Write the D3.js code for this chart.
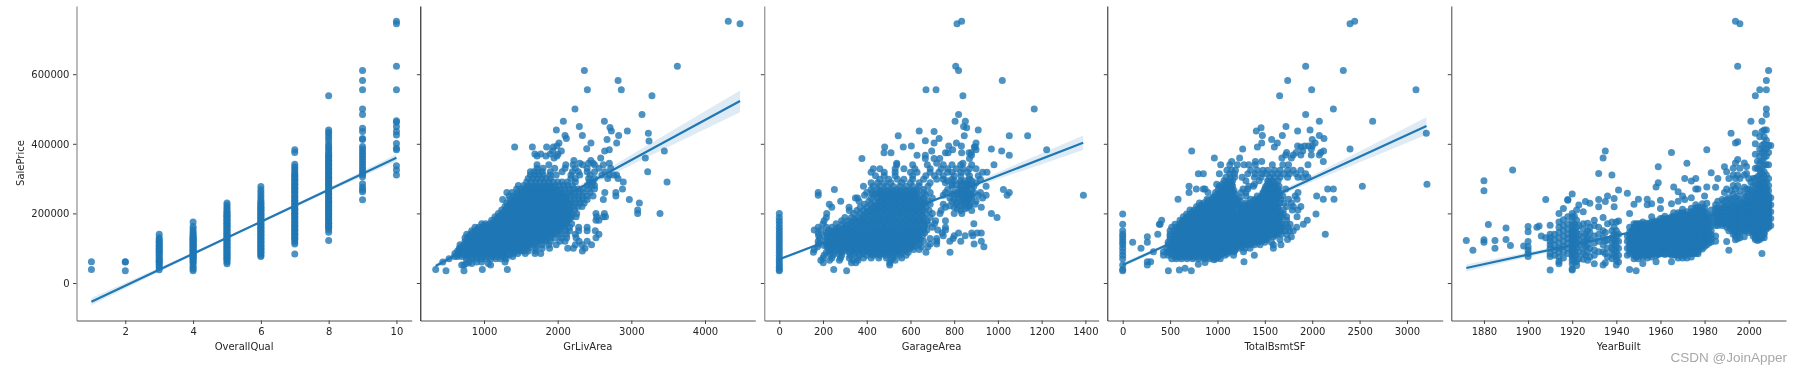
<!DOCTYPE html>
<meta charset="utf-8">
<title>SalePrice pair plot</title>
<script src="https://d3js.org/d3.v7.min.js"></script>
<style>
  body { margin: 0; background: #fff; }
  svg { filter: blur(0.4px); }
  text { font-family: "DejaVu Sans", sans-serif; font-size: 10px; fill: #262626; }
</style>
<svg width="1802" height="374"></svg>
<script>
// all prices are in thousands

// OverallQual: [qual, prices...]
var qualCols = [
  [1,39,61],
  [2,35,60,61],
  [3,38,45,50,55,60,62,67,70,75,80,85,88,92,96,100,105,108,112,116,120,125,130,140],
  [4,35,40,45,52,58,62,66,70,74,78,82,86,90,94,98,102,106,110,114,118,122,126,130,134,138,142,148,155,162,175],
  [5,55,60,65,70,75,80,85,90,95,100,105,110,115,120,125,130,135,140,145,150,155,160,165,170,175,180,185,190,195,200,206,212,218,224,230],
  [6,76,80,85,90,95,100,105,110,115,120,125,130,135,140,145,150,155,160,165,170,175,180,185,190,195,200,205,210,215,220,226,232,238,245,252,260,268,277],
  [7,83,112,118,124,130,136,142,148,154,160,166,172,178,184,190,196,202,208,214,220,226,232,238,244,250,256,262,268,274,280,286,292,298,304,310,316,322,328,334,341,375,383],
  [8,122,146,154,160,166,172,178,184,190,196,202,208,214,220,226,232,238,244,250,256,262,268,274,280,286,292,298,304,310,316,322,328,334,340,346,352,358,364,370,376,382,388,394,400,410,418,426,433,440,538],
  [9,239,262,268,275,285,305,312,318,325,332,340,347,355,362,370,377,385,392,412,415,435,445,484,500,555,582,611],
  [10,310,325,337,383,387,401,425,435,449,462,466,555,623,745,752],
  // second pass over the solid part of each column
  [4,72,80,88,96,104,112,120,128],
  [5,72,82,92,102,112,122,132,142,152,162,172,182,192,202],
  [6,88,98,108,118,128,138,148,158,168,178,188,198,208,218,228],
  [7,128,140,152,164,176,188,200,212,224,236,248,260,272,284,296,308],
  [8,160,172,184,196,208,220,232,244,256,268,280,292,304,316,328,340,352,364]
];

// GrLivArea: [price, areas...]
var livRows = [
  [35,484,728],[39,344,977,1317],[52,697,728,1090],[56,760,833,1059],[60,440,800,900,968,1285],
  [70,525,760,830,900,965,1030,1090,1160,1225,1300],
  [76,600,640,700,770,840,905,970,1030,1100,1170,1240,1285,1390],
  [85,605,650,715,780,850,920,985,1050,1120,1190,1260,1330,1400,1460,1560,1692,1770],
  [92,640,690,745,800,855,910,965,1020,1075,1130,1185,1240,1295,1350,1410,1470,1530,1600,1700,2335],
  [100,665,720,775,830,885,940,990,1045,1100,1155,1210,1260,1315,1370,1430,1490,1550,1610,1700,1790,1890,2136,2213,2371],
  [110,674,730,785,840,895,950,1005,1060,1115,1170,1225,1280,1335,1390,1445,1500,1555,1610,1665,1720,1790,1880,1980,2240,2330,2460],
  [120,742,795,850,905,960,1015,1070,1125,1180,1235,1290,1345,1400,1455,1510,1565,1620,1675,1730,1785,1840,1900,2032,2100,2290,2400],
  [130,742,800,855,910,965,1020,1075,1130,1185,1240,1295,1350,1405,1460,1515,1570,1625,1680,1735,1790,1845,1900,1960,2050,2122,2250,2520],
  [140,765,820,875,930,985,1040,1095,1150,1205,1260,1315,1370,1425,1480,1535,1590,1645,1700,1755,1810,1865,1920,1980,2040,2120,2240,2560],
  [150,833,885,940,995,1050,1105,1160,1215,1270,1325,1380,1435,1490,1545,1600,1655,1710,1765,1820,1875,1930,1985,2040,2110,2160,2285,2400,2510],
  [160,878,930,985,1040,1095,1150,1205,1260,1315,1370,1425,1480,1535,1590,1645,1700,1755,1810,1865,1920,1975,2030,2090,2160,2285,2400],
  [170,968,1020,1075,1130,1185,1240,1295,1350,1405,1460,1515,1570,1625,1680,1735,1790,1845,1900,1955,2010,2065,2120,2190],
  [180,1104,1155,1210,1265,1320,1375,1430,1485,1540,1595,1650,1705,1760,1815,1870,1925,1980,2035,2090,2145,2520,2560],
  [190,1149,1200,1255,1310,1365,1420,1475,1530,1585,1640,1695,1750,1805,1860,1915,1970,2025,2080,2135,2190,2250,2530,2620,2650],
  [200,1195,1250,1305,1360,1415,1470,1525,1580,1635,1690,1745,1800,1855,1910,1965,2020,2075,2130,2185,2258,2520,2634,3086,3389],
  [210,1240,1295,1350,1405,1460,1515,1570,1625,1680,1735,1790,1845,1900,1955,2010,2065,2120,2175,2230,3086],
  [220,1285,1340,1395,1450,1505,1560,1615,1670,1725,1780,1835,1890,1945,2000,2055,2110,2165,2220,2275,2330],
  [230,1308,1360,1415,1470,1525,1580,1635,1690,1745,1800,1855,1910,1965,2020,2075,2130,2185,2240,2300,2360,3109],
  [240,1253,1353,1405,1460,1515,1570,1625,1680,1735,1790,1845,1900,1955,2010,2065,2120,2175,2230,2285,2340,2400,2620,2973],
  [250,1340,1400,1455,1510,1565,1620,1675,1730,1785,1840,1895,1950,2005,2060,2115,2170,2225,2280,2340,2400,2480,2790],
  [260,1310,1380,1450,1510,1570,1630,1690,1750,1810,1870,1930,1990,2050,2110,2170,2230,2290,2350,2440,2640,2790],
  [270,1443,1500,1560,1620,1680,1740,1800,1860,1920,1980,2040,2100,2160,2220,2280,2340,2420,2500,2880],
  [280,1466,1540,1600,1660,1720,1780,1840,1900,1960,2020,2080,2140,2200,2400,2460,2500],
  [290,1579,1640,1700,1760,1820,1880,1940,2000,2060,2130,2240,2430,2480,2891,3485],
  [300,1600,1660,1720,1780,1840,1900,2180,2240,2420,2500,2680,2820],
  [310,1630,1690,1740,1805,1900,1980,2180,2300,2440,2600,2700,2760,2800],
  [320,1630,1680,1730,1790,1900,2060,2200,2280,2400,2500,2640,3222],
  [330,1720,1800,1960,2100,2240,2400,2560,2720],
  [340,1720,1880,2110,2210,2340,2500,2620],
  [344,2300,2420,2480,2701],[352,2220,2450],[359,1950,2584,3190],[365,1720,1840,1990],
  [371,1690,1770,1900,2005],[379,1930,2050,2638,3448],[383,2701],[386,2394],
  [391,1416,1656,1850,1940],[394,1990],[402,2018,2452,2801],[408,3240],[412,2670],[415,2118],
  [424,2100,2335,2828],[430,3231],[437,2946,2729],[440,1982],[447,2710],[450,2294],
  [465,2077,2634],[484,3145],[500,2235],[538,3280],[555,2403,2864],[582,2820],[611,2362],[623,3625],[745,4476],[752,4316],
  // denser middle of the cloud
  [81,660,735,810,885,960,1035,1110,1185,1260,1345],
  [95,670,720,770,825,880,935,990,1045,1100,1155,1210,1265,1320,1380,1440,1510],
  [105,700,755,810,865,920,975,1030,1085,1140,1195,1250,1305,1360,1415,1470,1525,1580],
  [115,760,815,870,925,980,1035,1090,1145,1200,1255,1310,1365,1420,1475,1530,1585,1640,1700],
  [125,770,825,880,935,990,1045,1100,1155,1210,1265,1320,1375,1430,1485,1540,1595,1650,1705,1760,1815],
  [135,795,850,905,960,1015,1070,1125,1180,1235,1290,1345,1400,1455,1510,1565,1620,1675,1730,1785,1840,1895],
  [145,850,905,960,1015,1070,1125,1180,1235,1290,1345,1400,1455,1510,1565,1620,1675,1730,1785,1840,1895,1950],
  [155,910,965,1020,1075,1130,1185,1240,1295,1350,1405,1460,1515,1570,1625,1680,1735,1790,1845,1900,1955,2010],
  [165,995,1050,1105,1160,1215,1270,1325,1380,1435,1490,1545,1600,1655,1710,1765,1820,1875,1930,1985,2040,2095],
  [175,1130,1185,1240,1295,1350,1405,1460,1515,1570,1625,1680,1735,1790,1845,1900,1955,2010,2065,2120],
  [185,1175,1230,1285,1340,1395,1450,1505,1560,1615,1670,1725,1780,1835,1890,1945,2000,2055,2110,2165],
  [195,1225,1280,1335,1390,1445,1500,1555,1610,1665,1720,1775,1830,1885,1940,1995,2050,2105,2160],
  [205,1270,1325,1380,1435,1490,1545,1600,1655,1710,1765,1820,1875,1930,1985,2040,2095,2150],
  [215,1310,1365,1420,1475,1530,1585,1640,1695,1750,1805,1860,1915,1970,2025,2080,2135],
  [225,1335,1390,1445,1500,1555,1610,1665,1720,1775,1830,1885,1940,1995,2050,2105,2160],
  [235,1380,1435,1490,1545,1600,1655,1710,1765,1820,1875,1930,1985,2040,2095],
  [245,1430,1485,1540,1595,1650,1705,1760,1815,1870,1925,1980,2035,2090],
  [255,1470,1530,1590,1650,1710,1770,1830,1890,1950,2010,2070],
  [265,1530,1590,1650,1710,1770,1830,1890,1950,2010],
  [275,1570,1630,1690,1750,1810,1870,1930]
];

// GarageArea: [price, areas...]
var garageRows = [
  [35,0,308],[39,0,249],[45,0],[52,0,505],[58,0,201,330,350,505],
  [65,0,190,230,275,335,360,510,530],
  [72,0,200,240,280,320,355,385,420,455,490,520,560],
  [80,0,205,245,285,325,365,400,430,460,490,520,550,580],
  [88,0,156,215,250,285,320,350,380,410,440,470,500,530,560,590,671,781],
  [96,0,160,225,255,285,315,345,375,405,435,465,495,525,555,585,615,640],
  [104,0,175,220,250,280,310,340,370,400,430,460,490,520,550,580,610,650,680,936],
  [112,0,180,215,245,275,305,335,365,395,425,455,485,515,545,575,605,640,690,720,891],
  [120,0,178,210,240,270,300,330,360,390,420,450,480,510,540,570,600,630,660,720,780,830,924],
  [128,0,185,220,250,280,310,340,370,400,430,460,490,520,550,580,610,640,690,720,795],
  [136,0,180,205,235,265,295,325,355,385,415,445,475,505,535,565,595,625,655,750,800,850,885],
  [144,0,178,215,245,275,305,335,365,395,425,455,485,515,545,575,605,635,665,745,820,880,905,924],
  [152,0,160,190,225,255,285,315,345,375,405,435,465,495,525,555,585,615,645,675,725,760],
  [160,0,178,215,240,270,300,330,360,390,420,450,480,510,540,570,600,630,660,700,760],
  [170,0,200,260,290,320,350,380,410,440,470,500,530,560,590,620,650,680,710,890],
  [179,0,205,285,315,345,375,405,435,465,495,525,555,585,615,645,675,715,760],
  [188,0,215,300,330,360,390,420,450,480,510,540,570,600,630,660,690,996],
  [200,0,217,340,370,400,430,460,490,520,550,580,610,640,670,700,735,800,835,970],
  [208,320,355,385,415,445,475,505,535,565,595,625,655,685,740,830,880],
  [218,240,319,370,400,430,460,490,520,550,580,610,640,670,760,800,860,924],
  [226,229,390,420,450,480,510,540,570,600,630,660,690,750,810,840,870,895],
  [235,281,365,410,440,470,500,530,560,590,620,650,680,790,830,860,900],
  [244,348,358,420,450,480,510,540,570,600,630,660,700,780,820,850,880,930],
  [252,178,390,430,460,490,520,550,580,610,640,670,750,810,850,880,910,946,1042,1391],
  [260,178,400,425,450,480,510,540,570,600,630,660,690,760,800,830,860,890,920,1052],
  [269,252,420,450,480,510,540,570,600,630,660,770,820,850,880,1025],
  [278,385,430,460,490,520,550,580,610,640,680,790,830,860,890,946],
  [288,420,450,480,510,560,600,640,690,760,830,860,900],
  [298,460,500,540,570,610,660,720,750,790,870,920],
  [308,440,480,530,610,670,710,750,800,830,870,910],
  [318,420,480,530,600,630,690,730,770,790,830,860,930,950],
  [328,430,460,530,570,620,690,740,770,810,840,870,900],
  [340,537,610,677,750,790,830,880,982],[344,537,720,840],[358,378,668,708,734,870],[367,630,668,879,1052],
  [374,479,511,760,772,834,868,878],[379,697,1017],[383,793,1223,900],[385,970],[391,482,567,892,896],
  [394,604,775,833],[402,708,810,900],[409,668],[415,731],[423,544,846,1052,1136],[435,708],[437,640],
  [440,910],[446,857],[450,843],[465,804,851],[484,820],[500,1166],[538,840],[555,671,717],[582,1020],[611,820],[623,807],[745,813],[752,834],
  // denser middle of the cloud
  [84,230,270,340,380,420,445,475,505,535],
  [92,235,270,300,330,360,395,425,450,480,510,540,570],
  [100,235,265,295,325,355,385,415,445,475,505,535,565,595],
  [108,205,235,265,295,325,355,385,415,445,475,505,535,565,595,625],
  [116,225,255,285,315,345,375,405,435,465,495,525,555,585,615],
  [124,225,255,285,315,345,375,405,435,465,495,525,555,585,615,645],
  [132,240,270,300,330,360,390,420,450,480,510,540,570,600,630],
  [140,220,250,280,310,340,370,400,430,460,490,520,550,580,610,640],
  [148,240,270,300,330,360,390,420,450,480,510,540,570,600,630,655],
  [156,270,300,330,360,390,420,450,480,510,540,570,600,630,660],
  [165,305,335,365,395,425,455,485,515,545,575,605,635,665],
  [175,330,360,390,420,450,480,510,540,570,600,630,660],
  [184,345,375,405,435,465,495,525,555,585,615,645],
  [194,385,415,445,475,505,535,565,595,625,655],
  [204,400,430,460,490,520,550,580,610,640],
  [213,420,450,480,510,540,570,600,630,655,815,850],
  [222,435,465,495,525,555,585,615,645,780,830,870],
  [231,455,485,515,545,575,605,635,665,810,850],
  [240,465,495,525,555,585,615,645,800,840,870],
  [248,470,500,530,560,590,620,835,865],
  [256,440,470,500,530,560,590,620,790,820,850,875],
  [264,465,495,525,555,585,615,830,860],
  [282,790,810,840,860,880],
  [294,770,800,830,850,880]
];

// TotalBsmtSF: [price, areas...]
var bsmtRows = [
  [35,0,482,724],[37,598],[39,0],[42,658],[52,0,260],[54,798],[59,869],[61,260,295,1280],[67,964],
  [70,0,517,565,620,680,740,800,860,920,980,1030],
  [80,0,430,480,530,580,630,680,730,780,830,880,930,980,1030,1080,1170,1389],
  [90,0,324,430,475,525,575,625,675,725,775,825,875,925,975,1025,1075,1125,1175,1275],
  [100,0,193,464,510,555,600,645,690,735,780,825,870,915,960,1005,1050,1095,1140,1185,1230,1290,1344,1590],
  [110,0,480,525,570,615,660,705,750,795,840,885,930,975,1020,1065,1110,1155,1200,1245,1290,1335,1390,1450,1590,1670],
  [117,0,105,260,480,530,575,620,665,710,755,800,845,890,935,980,1025,1070,1115,1160,1205,1250,1295,1340,1385,1430,1500,1570],
  [125,0,500,545,590,635,680,725,770,815,860,905,950,995,1040,1085,1130,1175,1220,1265,1310,1355,1400,1445,1490,1520,1660,1740],
  [133,0,260,500,545,590,635,680,725,770,815,860,905,950,995,1040,1085,1130,1175,1220,1265,1310,1355,1400,1445,1490,1535,1590,1780],
  [140,0,370,500,545,590,635,680,725,770,815,860,905,950,995,1040,1085,1130,1175,1220,1265,1310,1355,1400,1445,1490,1535,1580,1625,1670,1730,2138],
  [150,0,500,545,590,635,680,725,770,815,860,905,950,995,1040,1085,1130,1175,1220,1265,1310,1355,1400,1445,1490,1535,1580,1625,1670,1715,1760,1800],
  [160,517,565,610,655,700,745,790,835,880,925,970,1015,1060,1105,1150,1195,1240,1285,1330,1375,1420,1465,1510,1555,1600,1645,1690,1745,1836],
  [169,0,387,395,552,600,645,690,735,780,825,870,915,960,1005,1050,1095,1140,1185,1230,1275,1320,1365,1410,1455,1500,1545,1590,1635,1680,1725,1766,1906],
  [180,411,605,650,695,740,785,830,875,920,965,1010,1055,1100,1145,1190,1235,1280,1325,1370,1415,1460,1505,1550,1595,1640,1730,1948],
  [190,640,685,730,775,820,865,910,955,1000,1045,1090,1135,1180,1225,1270,1315,1360,1405,1450,1495,1540,1585,1630,1675,1730,1840],
  [198,0,675,720,765,810,855,900,945,990,1035,1080,1125,1170,1240,1285,1330,1375,1420,1465,1510,1555,1600,1645,1695,2040],
  [210,710,755,800,845,890,935,980,1025,1070,1115,1160,1260,1305,1350,1395,1440,1485,1530,1575,1620,1695,1790,1850],
  [220,780,825,870,915,960,1005,1050,1095,1140,1230,1275,1320,1365,1410,1455,1500,1545,1590,1640,1730,1800,1880],
  [230,810,855,900,945,990,1035,1080,1125,1170,1215,1300,1345,1390,1435,1480,1525,1570,1615,1660,1700,1780],
  [241,584,890,940,985,1030,1075,1120,1165,1210,1350,1400,1445,1490,1535,1580,1625,1670,1750,1840,2117,2230],
  [250,970,1015,1060,1105,1150,1300,1420,1470,1515,1560,1605,1650,1690,1820,2047],
  [260,700,900,980,1030,1075,1120,1165,1250,1300,1480,1520,1565,1610,1660,1850],
  [270,777,850,869,1010,1060,1105,1150,1270,1320,1500,1545,1590,1640,1720,2163,2223],
  [278,700,1020,1070,1115,1160,1330,1380,1510,1555,1600,1650,2529],
  [284,992,1050,1100,1150,1390,1530,1570,1620,3211],
  [294,1070,1120,1160,1300,1440,1530,1580,1640],
  [304,1090,1140,1180,1260,1390,1460,1550,1600,1660,1740,1850,1900,1955],
  [314,798,851,1020,1130,1180,1320,1400,1470,1520,1580,1640,1700,1760,1830,1930],
  [324,1100,1150,1190,1350,1420,1480,1530,1600,1660,1740,1800,1880],
  [340,1034,1130,1210,1280,1330,1400,1579,1690,1750,1955],[349,1150,1400,1467,2117],[359,967,1234,1680,1780],
  [368,1720,1800,1880,1990,2075],[375,1730,1830,2090],[379,728,1900,2120],[385,1266,2399,1990],[391,1421,1600,1880],
  [394,1846,1920,1960,2000],[402,1467,1632,2030],[412,1572,2000],[415,2124],[424,1474,1685,2075],[430,3204],
  [437,1410,1846],[440,1977],[446,1460],[450,1723],[465,2075,2638],[484,1931],[500,2223],[538,1656],
  [555,1994,3095],[582,1741],[611,2328],[623,1931],[745,2399],[752,2448],
  // denser middle of the cloud
  [75,560,605,655,705,755,805,855,905,955,1005],
  [85,505,555,605,655,705,755,805,855,905,955,1005,1055,1105],
  [95,500,550,600,645,690,735,780,825,870,915,960,1005,1050,1095,1140,1185],
  [105,530,575,620,665,710,755,800,845,890,935,980,1025,1070,1115,1160,1205,1250],
  [113,550,595,640,685,730,775,820,865,910,955,1000,1045,1090,1135,1180,1225,1270,1315,1360],
  [121,570,615,660,705,750,795,840,885,930,975,1020,1065,1110,1155,1200,1245,1290,1335,1380,1425,1470],
  [129,570,615,660,705,750,795,840,885,930,975,1020,1065,1110,1155,1200,1245,1290,1335,1380,1425,1470,1515],
  [137,570,615,660,705,750,795,840,885,930,975,1020,1065,1110,1155,1200,1245,1290,1335,1380,1425,1470,1515,1560,1605],
  [145,570,615,660,705,750,795,840,885,930,975,1020,1065,1110,1155,1200,1245,1290,1335,1380,1425,1470,1515,1560,1605,1650],
  [155,590,635,680,725,770,815,860,905,950,995,1040,1085,1130,1175,1220,1265,1310,1355,1400,1445,1490,1535,1580,1625,1670],
  [165,620,665,710,755,800,845,890,935,980,1025,1070,1115,1160,1205,1250,1295,1340,1385,1430,1475,1520,1565,1610,1655],
  [175,625,670,715,760,805,850,895,940,985,1030,1075,1120,1165,1210,1255,1300,1345,1390,1435,1480,1525,1570,1615,1660],
  [185,665,710,755,800,845,890,935,980,1025,1070,1115,1160,1205,1250,1295,1340,1385,1430,1475,1520,1565,1610,1655],
  [194,700,745,790,835,880,925,970,1015,1060,1105,1150,1195,1260,1305,1350,1395,1440,1485,1530,1575,1620,1665],
  [204,735,780,825,870,915,960,1005,1050,1095,1140,1185,1220,1280,1330,1380,1430,1480,1530,1575,1620,1665],
  [215,800,845,890,935,980,1025,1070,1115,1160,1205,1250,1300,1350,1400,1450,1500,1545,1590,1635],
  [225,835,880,925,970,1015,1060,1105,1150,1195,1240,1290,1340,1390,1440,1490,1535,1580,1625],
  [236,900,960,1010,1055,1100,1145,1190,1240,1380,1430,1480,1525,1570,1615],
  [246,950,1000,1045,1090,1135,1180,1230,1450,1495,1540,1585,1630],
  [256,1000,1050,1095,1140,1185,1480,1525,1570,1615],
  [266,1040,1085,1130,1175,1500,1545,1590,1630],
  [274,1050,1090,1130,1520,1570,1610],
  [290,1090,1140,1540,1590]
];

// YearBuilt: [year, prices...]
var yearCols = [
  [1872,122],[1875,94],[1880,117,124,265,294],[1882,168],[1885,100,122],[1890,125,158],[1892,108],[1893,325],[1898,106],
  [1900,76,85,95,104,119,147,162],[1904,160],[1905,164],[1906,135],[1908,130,240],
  [1910,37,76,85,100,110,120,130,140,166],
  [1912,80,95,110,125,140],
  [1914,55,62,75,88,100,115,130,145,160,175,200],
  [1916,72,90,105,120,135,150,165,182,214],
  [1918,85,100,115,128,140,155,170,190,238,240],
  [1920,37,40,55,65,75,85,95,105,115,125,135,145,155,165,175,190,200,256],
  [1921,60,78,92,108,122,138,150,170,192],
  [1922,50,62,80,100,115,130,145,160,180,210],
  [1923,70,90,110,125,140,165,224],
  [1925,68,85,100,118,135,155,170,205],
  [1926,80,105,120,140,234],
  [1927,65,90,110,130,150,172],
  [1928,75,100,125,145,160,229],
  [1930,55,80,95,115,135,165,180],
  [1932,90,120,140,160,240,219,315],
  [1934,52,90,110,130,150,188,359],
  [1935,58,85,120,145,234,379],
  [1936,75,100,125,170,250],
  [1938,70,85,100,115,130,150,175,310],
  [1939,80,95,110,125,140,160,243,219],
  [1940,52,65,75,90,105,120,135,150,175],
  [1941,60,80,100,120,140,178,267],
  [1945,80,100,120,135,258],
  [1946,39,85,95,105,115,125,135,145,160,200],
  [1948,70,80,90,100,110,120,130,140,150,160,170,226],
  [1949,35,75,85,95,105,115,125,135,145,155,165],
  [1950,70,80,90,100,110,120,130,140,150,160,170,241],
  [1952,56,75,85,95,105,115,125,135,145,155,165,175],
  [1954,72,82,92,102,112,122,132,142,152,162,172,241,225],
  [1956,75,85,95,105,115,125,135,145,155,165,175,190,228],
  [1958,61,78,88,98,108,118,128,138,148,158,168,178,276],
  [1959,82,92,102,112,122,132,142,152,162,172,288,334],
  [1960,85,95,105,115,125,135,145,155,165,175,185,214,238],
  [1962,82,92,102,112,122,132,142,152,162,172,182,192],
  [1964,85,95,105,115,125,135,145,155,165,175,185],
  [1965,61,80,90,100,110,120,130,140,150,160,170,180,190,228,375],
  [1966,82,92,102,112,122,132,142,152,162,172,182,192,202,276],
  [1968,72,82,92,102,112,122,132,142,152,162,172,182,192,202,235,262],
  [1970,72,82,92,102,112,122,132,142,152,162,172,182,192,202,212,250],
  [1971,78,88,98,108,118,128,138,148,158,168,178,188,198,240,300],
  [1972,72,85,95,105,115,125,135,145,155,165,175,185,195,205,344],
  [1974,75,85,95,105,115,125,135,145,155,165,175,185,195,205,215,245,293],
  [1976,85,95,105,115,125,135,145,155,165,175,185,195,205,215,225,270,300],
  [1977,84,98,108,118,128,138,148,158,168,178,188,198,208,218,270],
  [1979,98,108,118,128,138,148,158,168,178,188,198,208,218,228],
  [1980,105,115,125,135,145,155,165,175,185,195,205,215,250],
  [1981,110,120,130,140,150,160,170,180,190,200,229,276,383],
  [1983,118,128,138,150,165,180,195,210,317],
  [1985,120,135,165,175,185,195,205,215,225,275],
  [1986,165,175,185,195,205,215,235,300],
  [1988,165,175,185,195,205,215,225,240],
  [1989,170,180,190,200,210,220,235,260,334],
  [1990,119,160,170,180,190,200,210,220,240,270,320],
  [1991,94,150,165,175,185,195,205,215,225,245,300],
  [1992,155,165,175,185,195,205,215,225,240,265,430],
  [1993,140,150,160,170,180,190,200,210,220,235,255,280,330,310],
  [1994,124,135,145,155,165,175,185,195,205,215,225,245,270,300,345,402,752],
  [1995,128,140,150,160,170,180,190,200,210,220,235,250,280,310,355,406,623],
  [1996,130,145,155,165,175,185,195,205,215,225,240,265,300,330,745],
  [1998,133,150,160,170,180,190,200,210,220,230,240,255,275,310,345],
  [1999,150,165,175,185,195,205,215,225,235,250,270,315,335],
  [2000,145,160,170,180,190,200,210,220,230,240,255,270,300],
  [2001,150,165,175,185,195,205,215,225,235,250,265,290,465],
  [2002,135,145,155,165,175,185,195,205,215,225,235,245,260,280,300],
  [2003,125,135,145,155,165,175,185,195,205,215,225,235,245,255,265,280,300,330,370,400,430,538],
  [2004,122,130,140,150,160,170,180,190,200,210,220,230,240,250,260,270,285,305,330,350],
  [2005,125,135,145,155,165,175,185,195,205,215,225,235,245,255,265,275,285,295,310,325,345,365,385,420,555],
  [2006,85,130,140,150,160,170,180,190,200,210,220,230,240,250,260,270,280,290,300,315,330,350,375,395,435,465],
  [2007,130,145,160,170,180,190,200,210,220,230,240,250,260,270,280,290,305,320,340,360,380,400,420,440],
  [2008,155,165,175,185,195,205,215,225,235,245,255,265,275,290,310,340,365,385,410,440,484,500,555,582],
  [2009,160,170,180,190,200,210,220,230,240,250,265,280,300,340,375,395,611],
  [2010,165,185,205,225,245,395],
  // denser middle of the cloud
  [1920,80,90,100,110,120,130,140,150],
  [1947,90,100,110,120,130,140,150],
  [1949,80,90,100,110,120,130,140,150,160,170],
  [1951,80,90,100,110,120,130,140,150,160,170],
  [1953,80,90,100,110,120,130,140,150,160,170],
  [1955,80,90,100,110,120,130,140,150,160,170],
  [1957,85,95,105,115,125,135,145,155,165,175],
  [1959,85,95,105,115,125,135,145,155,165,175],
  [1961,85,95,105,115,125,135,145,155,165,175,185],
  [1963,85,95,105,115,125,135,145,155,165,175,185],
  [1965,85,95,105,115,125,135,145,155,165,175,185],
  [1967,80,90,100,110,120,130,140,150,160,170,180,190],
  [1969,80,90,100,110,120,130,140,150,160,170,180,190,200],
  [1971,85,95,105,115,125,135,145,155,165,175,185,195],
  [1973,85,95,105,115,125,135,145,155,165,175,185,195],
  [1975,85,95,105,115,125,135,145,155,165,175,185,195,205],
  [1977,90,100,110,120,130,140,150,160,170,180,190,200],
  [1978,100,110,120,130,140,150,160,170,180,190,200,210],
  [1982,115,125,135,145,155,165,175,185],
  [1987,170,180,190,200,210],
  [1993,165,175,185,195,205,215],
  [1997,150,160,170,180,190,200,210,220,230],
  [2003,130,150,170,190,210,230,250],
  [2004,135,155,175,195,215,235,255],
  [2005,130,150,170,190,210,230,250,270],
  [2006,135,155,175,195,215,235,255,275],
  [2007,140,165,185,205,225,245,265,285],
  [2008,160,180,200,220,240,260],
  [2009,165,185,205,225,245]
];

// regression fits: [x, lower, fit, upper]
var qualFit = [[1,-64,-54,-43],[3,32,38,44],[5.5,150,153,156],[8,263,268,273],[10,350,360,370]];
var livFit = [[344,42,49,56],[1500,179,182,185],[2500,287,296,305],[3500,391,411,431],[4476,491,523,553]];
var garageFit = [[0,64,68,72],[470,178,181,184],[900,277,284,291],[1390,382,403,424]];
var bsmtFit = [[0,46,52,58],[1050,178,181,184],[2000,291,300,309],[3206,426,451,476]];
var yearFit = [[1872,33,43,53],[1920,104,109,114],[1970,175,178,181],[2010,227,232,237]];

var priceTicks = [0, 200, 400, 600];
var qualTicks = [2, 4, 6, 8, 10];
var livTicks = [1000, 2000, 3000, 4000];
var garageTicks = [0, 200, 400, 600, 800, 1000, 1200, 1400];
var bsmtTicks = [0, 500, 1000, 1500, 2000, 2500, 3000];
var yearTicks = [1880, 1900, 1920, 1940, 1960, 1980, 2000];

function fromCols(cols) {
    return cols.flatMap(function(c) {
        return c.slice(1).map(function(p) { return {x: c[0], y: p}; });
    });
}
function fromRows(rows) {
    return rows.flatMap(function(r) {
        return r.slice(1).map(function(v) { return {x: v, y: r[0]}; });
    });
}

var panels = [
    {name: "OverallQual", left: 76.5, right: 411.7, domain: [0.56, 10.45], ticks: qualTicks, points: fromCols(qualCols), fit: qualFit, spine: "#777"},
    {name: "GrLivArea", left: 420.3, right: 755.3, domain: [135, 4683], ticks: livTicks, points: fromRows(livRows), fit: livFit, spine: "#000"},
    {name: "GarageArea", left: 764.3, right: 1098.7, domain: [-68.6, 1461], ticks: garageTicks, points: fromRows(garageRows), fit: garageFit, spine: "#777"},
    {name: "TotalBsmtSF", left: 1107.3, right: 1442.7, domain: [-162.5, 3377], ticks: bsmtTicks, points: fromRows(bsmtRows), fit: bsmtFit, spine: "#222"},
    {name: "YearBuilt", left: 1451.3, right: 1786, domain: [1865.2, 2016.9], ticks: yearTicks, points: fromCols(yearCols), fit: yearFit, spine: "#444"}
];

var svg = d3.select("svg");
var blue = "#1f77b4";
var top_y = 6, bottom_y = 320.5;

var y = d3.scaleLinear().domain([-107.8, 796]).range([bottom_y, top_y]);

panels.forEach(function(p, i) {
    var x = d3.scaleLinear().domain(p.domain).range([p.left, p.right]);
    var g = svg.append("g");

    g.append("g").selectAll("circle")
        .data(p.points)
        .enter().append("circle")
        .attr("cx", function(d) { return x(d.x); })
        .attr("cy", function(d) { return y(d.y); })
        .attr("r", 3.5)
        .attr("fill", blue)
        .attr("fill-opacity", 0.8);

    // confidence band, then the line on top
    g.append("path")
        .datum(p.fit)
        .attr("fill", blue)
        .attr("fill-opacity", 0.15)
        .attr("d", d3.area()
            .x(function(d) { return x(d[0]); })
            .y0(function(d) { return y(d[1]); })
            .y1(function(d) { return y(d[3]); }));
    g.append("path")
        .datum(p.fit)
        .attr("fill", "none")
        .attr("stroke", blue)
        .attr("stroke-width", 2.2)
        .attr("d", d3.line()
            .x(function(d) { return x(d[0]); })
            .y(function(d) { return y(d[2]); }));

    var xAxis = d3.axisBottom(x).tickValues(p.ticks).tickSizeInner(3.5).tickSizeOuter(0).tickPadding(3.5).tickFormat(d3.format("d"));
    var xg = g.append("g").attr("transform", "translate(0," + bottom_y + ")").call(xAxis);
    xg.select(".domain").attr("stroke", "#555");
    xg.selectAll(".tick line").attr("stroke", "#444");

    var yAxis = d3.axisLeft(y).tickValues(priceTicks).tickSizeInner(3.5).tickSizeOuter(0).tickPadding(3.5)
        .tickFormat(function(d) { return i == 0 ? d * 1000 : ""; });
    var yg = g.append("g").attr("transform", "translate(" + p.left + ",0)").call(yAxis);
    yg.select(".domain").attr("stroke", p.spine);
    yg.selectAll(".tick line").attr("stroke", "#444");

    g.selectAll(".tick text").style("font-family", "DejaVu Sans").style("font-size", "10px").attr("fill", "#262626");

    g.append("text")
        .attr("x", (p.left + p.right) / 2)
        .attr("y", 350)
        .attr("text-anchor", "middle")
        .text(p.name);
});

svg.append("text")
    .attr("transform", "translate(24,163) rotate(-90)")
    .attr("text-anchor", "middle")
    .text("SalePrice");

svg.append("text")
    .attr("x", 1787)
    .attr("y", 361.5)
    .attr("text-anchor", "end")
    .style("font-family", "Liberation Sans")
    .style("font-size", "13.5px")
    .style("fill", "#a8a8a8")
    .text("CSDN @JoinApper");
</script>
